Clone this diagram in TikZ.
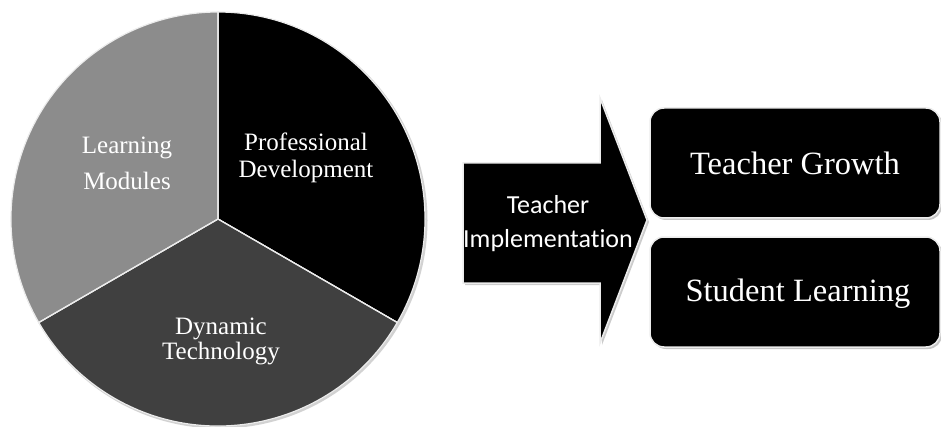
\documentclass[tikz,border=0pt]{standalone}
\usepackage{fontspec}
\setmainfont{Liberation Serif}
\newfontfamily\calib[Ligatures=NoCommon]{Carlito}
\usetikzlibrary{calc}
\begin{document}
\begin{tikzpicture}[x=1pt,y=1pt,
  slice/.style={draw=white!85!gray, line width=1.2pt, line join=round},
  pielabel/.style={text=white, align=center, inner sep=0pt},
  outbox/.style={fill=black, draw=white!85!gray, line width=1.5pt, rounded corners=14pt},
  boxshadow/.style={fill=gray!45, rounded corners=14pt},
  outtext/.style={text=white, inner sep=0pt, font=\fontsize{32.5}{39}\selectfont}]
\useasboundingbox (0,0) rectangle (941,426);
% pie
\coordinate (c) at (218,207);
\fill[gray!35] ($(c)+(1.5,-1.5)$) circle (208);
\fill[slice, fill=black] (c) -- ++(90:207) arc (90:-30:207) -- cycle;
\fill[slice, fill=black!75] (c) -- ++(-30:207) arc (-30:-150:207) -- cycle;
\fill[slice, fill=black!45] (c) -- ++(-150:207) arc (-150:-270:207) -- cycle;
\draw[slice] (c) -- ++(90:207) (c) -- ++(-30:207) (c) -- ++(-150:207);
\node[pielabel, font=\fontsize{25}{27}\selectfont] (pd) at (306,268.5) {Professional\\Development};
\node[pielabel, font=\fontsize{25}{35.5}\selectfont] (lm) at (127,262.5) {Learning\\Modules};
\node[pielabel, font=\fontsize{25}{25}\selectfont] (dt) at (221,85) {Dynamic\\Technology};
% arrow
\fill[gray!40] (465,141) -- (465,261) -- (602,261) -- (602,326) -- (649,204) -- (602,81) -- (602,141) -- cycle;
\draw[fill=black, draw=white!85!gray, line width=1.5pt, line join=miter] (463,143) -- (463,263) -- (600,263) -- (600,328) -- (647,206) -- (600,83) -- (600,143) -- cycle;
\node[text=white, align=center, inner sep=0pt, font=\calib\fontsize{26}{34}\selectfont] (ti) at (548,202) {Teacher\\Implementation};
% boxes
\fill[boxshadow] (652,206) rectangle (942,316);
\fill[boxshadow] (652,77) rectangle (942,187);
\draw[outbox] (650,208) rectangle (940,318);
\draw[outbox] (650,79) rectangle (940,189);
\node[outtext] (tg) at (795,263) {Teacher Growth};
\node[outtext] (sl) at (798,132) {Student Learning};
\end{tikzpicture}
\end{document}
